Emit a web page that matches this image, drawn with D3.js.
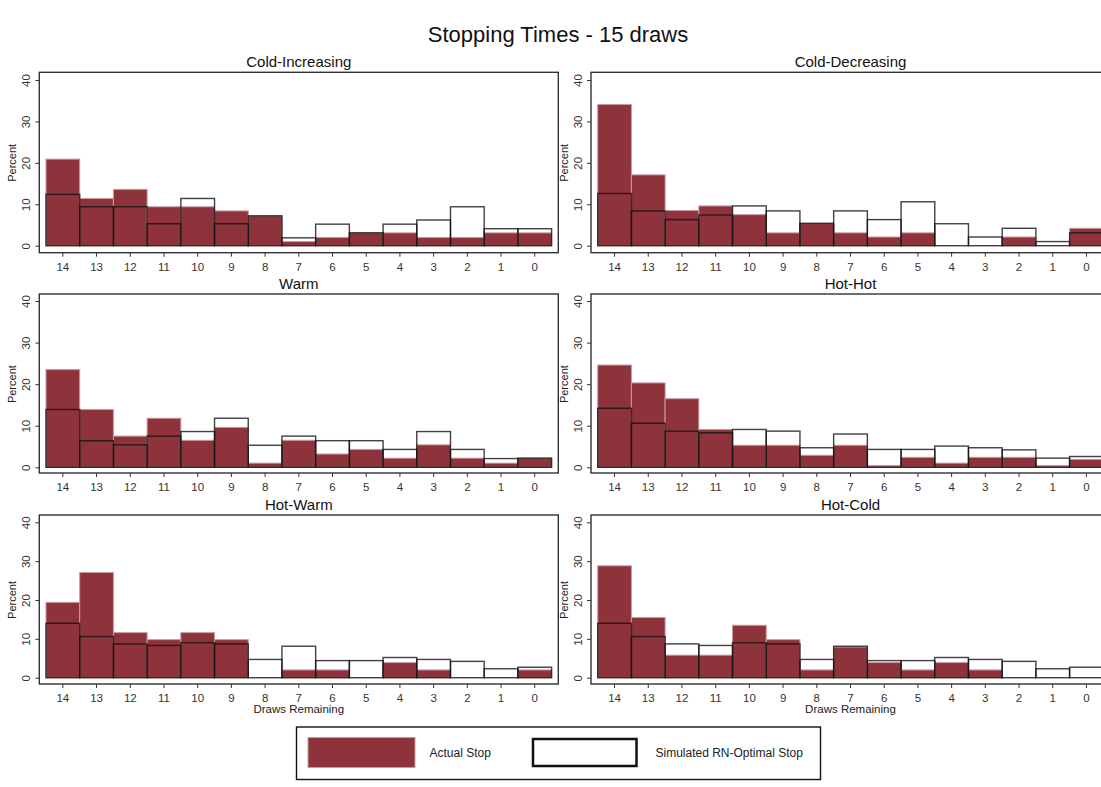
<!DOCTYPE html>
<html lang="en">
<head>
  <meta charset="UTF-8">
  <title>Stopping Times - 15 draws</title>
  <script src="https://d3js.org/d3.v7.min.js"></script>
  <style>
    body { margin: 0; background: #fff; }
    text { font-family: "Liberation Sans", Arial, sans-serif; fill: #222; }
  </style>
</head>
<body>
  <script>
    // draws remaining, left to right
    var categories = [14, 13, 12, 11, 10, 9, 8, 7, 6, 5, 4, 3, 2, 1, 0];
    var yTicks = [0, 10, 20, 30, 40];
    var panelNames = ["Cold-Increasing", "Cold-Decreasing", "Warm", "Hot-Hot", "Hot-Warm", "Hot-Cold"];

    // percent of subjects stopping (Actual) and simulated RN-optimal stops
    var actualColdInc = [20.9, 11.4, 13.6, 9.4, 9.4, 8.4, 7.2, 1.0, 2.0, 3.1, 3.1, 2.0, 2.0, 3.1, 3.1];
    var simColdInc    = [12.4, 9.4, 9.4, 5.3, 11.4, 5.3, 7.2, 1.9, 5.2, 3.1, 5.2, 6.2, 9.4, 4.1, 4.1];

    var actualColdDec = [34.1, 17.1, 8.5, 9.6, 7.5, 3.1, 5.4, 3.1, 2.1, 3.1, 0, 0, 2.1, 0, 4.2];
    var simColdDec    = [12.6, 8.4, 6.3, 7.4, 9.6, 8.4, 5.4, 8.4, 6.3, 10.6, 5.3, 2.1, 4.2, 1.0, 3.1];

    var actualWarm = [23.5, 13.9, 7.5, 11.8, 6.5, 9.6, 1.0, 6.5, 3.2, 4.3, 2.2, 5.4, 2.2, 1.0, 2.2];
    var simWarm    = [13.9, 6.4, 5.4, 7.5, 8.6, 11.8, 5.3, 7.5, 6.4, 6.4, 4.3, 8.6, 4.3, 2.1, 2.2];

    var actualHotHot = [24.6, 20.3, 16.5, 9.1, 5.3, 5.3, 2.9, 5.3, 0.4, 2.4, 1.0, 2.4, 2.4, 0.4, 1.9];
    var simHotHot    = [14.2, 10.6, 8.7, 8.3, 9.1, 8.7, 4.7, 8.0, 4.3, 4.3, 5.1, 4.7, 4.2, 2.2, 2.6];

    var actualHotWarm = [19.4, 27.1, 11.6, 9.8, 11.6, 9.8, 0, 2.0, 2.0, 0, 3.9, 2.0, 0, 0, 2.0];
    var simHotWarm    = [14.0, 10.6, 8.7, 8.3, 9.0, 8.7, 4.7, 8.1, 4.4, 4.4, 5.2, 4.7, 4.2, 2.3, 2.7];

    var actualHotCold = [28.8, 15.5, 5.8, 5.8, 13.5, 9.8, 2.0, 7.9, 3.9, 2.0, 3.9, 2.0, 0, 0, 0];
    var simHotCold    = [14.0, 10.6, 8.7, 8.3, 9.0, 8.7, 4.7, 8.1, 4.4, 4.4, 5.2, 4.7, 4.2, 2.3, 2.7];

    var actualSeries = [actualColdInc, actualColdDec, actualWarm, actualHotHot, actualHotWarm, actualHotCold];
    var simSeries = [simColdInc, simColdDec, simWarm, simHotHot, simHotWarm, simHotCold];

    var red = "#8e333c";
    var redEdge = "#c99aa0";

    var svg = d3.select("body")
                .append("svg")
                .attr("width", 1101)
                .attr("height", 787);

    svg.append("text")
       .attr("x", 558)
       .attr("y", 42)
       .attr("text-anchor", "middle")
       .style("font-size", "22px")
       .style("fill", "#111")
       .text("Stopping Times - 15 draws");

    // plot box geometry for the grid
    var cols = [{ left: 39.3, right: 558.3 }, { left: 591, right: 1110 }];
    var rows = [
      { top: 72.3, bottom: 252.7, y40: 80, y0: 245.7 },
      { top: 294, bottom: 473, y40: 301, y0: 467.3 },
      { top: 515, bottom: 684, y40: 522.3, y0: 677.7 }
    ];

    panelNames.forEach(function(name, i) {
      var c = cols[i % 2];
      var r = rows[Math.floor(i / 2)];
      var g = svg.append("g");

      var x = d3.scaleBand()
                .domain(categories)
                .range([c.left + 6.7, c.right - 6.7])
                .padding(0);
      var y = d3.scaleLinear().domain([0, 40]).range([r.y0, r.y40]);

      // panel title
      g.append("text")
       .attr("x", (c.left + c.right) / 2)
       .attr("y", r.top - 5)
       .attr("text-anchor", "middle")
       .style("font-size", "15px")
       .style("fill", "#111")
       .text(name);

      // actual stops
      g.selectAll(".actual")
       .data(actualSeries[i].map(function(v, k) { return { cat: categories[k], v: v }; }).filter(function(d) { return d.v > 0; }))
       .enter()
       .append("rect")
       .attr("x", function(d) { return x(d.cat); })
       .attr("y", function(d) { return y(d.v); })
       .attr("width", x.bandwidth())
       .attr("height", function(d) { return y(0) - y(d.v); })
       .style("fill", red)
       .style("stroke", redEdge)
       .style("stroke-width", 1);

      // simulated RN-optimal stops (hollow)
      g.selectAll(".sim")
       .data(simSeries[i].map(function(v, k) { return { cat: categories[k], v: v }; }))
       .enter()
       .append("rect")
       .attr("x", function(d) { return x(d.cat); })
       .attr("y", function(d) { return y(d.v); })
       .attr("width", x.bandwidth())
       .attr("height", function(d) { return y(0) - y(d.v); })
       .style("fill", "none")
       .style("stroke", "#111")
       .style("stroke-opacity", 0.8)
       .style("stroke-width", 1.4);

      // frame
      g.append("rect")
       .attr("x", c.left)
       .attr("y", r.top)
       .attr("width", c.right - c.left)
       .attr("height", r.bottom - r.top)
       .style("fill", "none")
       .style("stroke", "#333")
       .style("stroke-width", 1.4);

      // y axis
      var ya = g.append("g")
                .attr("transform", "translate(" + c.left + ",0)")
                .call(d3.axisLeft(y).tickValues(yTicks).tickSize(4).tickPadding(0).tickFormat(d3.format("d")));
      ya.select(".domain").remove();
      ya.selectAll("line").style("stroke", "#333");
      ya.selectAll("text")
        .attr("x", null).attr("dy", null)
        .attr("transform", "translate(-12,0) rotate(-90)")
        .attr("text-anchor", "middle")
        .attr("dominant-baseline", "middle")
        .style("font-size", "11.5px")
        .style("font-family", "Liberation Sans, Arial, sans-serif")
        .style("fill", "#333");

      g.append("text")
       .attr("transform", "translate(" + (c.left - 26) + "," + y(20) + ") rotate(-90)")
       .attr("text-anchor", "middle")
       .attr("dominant-baseline", "middle")
       .style("font-size", "11px")
       .text("Percent");

      // x axis
      var xa = g.append("g")
                .attr("transform", "translate(0," + r.bottom + ")")
                .call(d3.axisBottom(x).tickSize(4).tickPadding(6));
      xa.select(".domain").remove();
      xa.selectAll("line").style("stroke", "#333");
      xa.selectAll("text")
        .style("font-size", "11.5px")
        .style("font-family", "Liberation Sans, Arial, sans-serif")
        .style("fill", "#333");

      if (Math.floor(i / 2) === 2) {
        g.append("text")
         .attr("x", (c.left + c.right) / 2)
         .attr("y", r.bottom + 29)
         .attr("text-anchor", "middle")
         .style("font-size", "11.5px")
         .text("Draws Remaining");
      }
    });

    // legend
    var leg = svg.append("g");
    leg.append("rect")
       .attr("x", 296.5).attr("y", 727)
       .attr("width", 524).attr("height", 52.5)
       .style("fill", "#fff")
       .style("stroke", "#111")
       .style("stroke-width", 1.4);
    leg.append("rect")
       .attr("x", 308).attr("y", 737.5)
       .attr("width", 107).attr("height", 30)
       .style("fill", red)
       .style("stroke", redEdge)
       .style("stroke-width", 1);
    leg.append("text")
       .attr("x", 429.5).attr("y", 757)
       .style("font-size", "12px")
       .text("Actual Stop");
    leg.append("rect")
       .attr("x", 533).attr("y", 739)
       .attr("width", 103.5).attr("height", 27)
       .style("fill", "none")
       .style("stroke", "#111")
       .style("stroke-width", 2.5);
    leg.append("text")
       .attr("x", 655.5).attr("y", 757)
       .style("font-size", "12px")
       .text("Simulated RN-Optimal Stop");
  </script>
</body>
</html>
